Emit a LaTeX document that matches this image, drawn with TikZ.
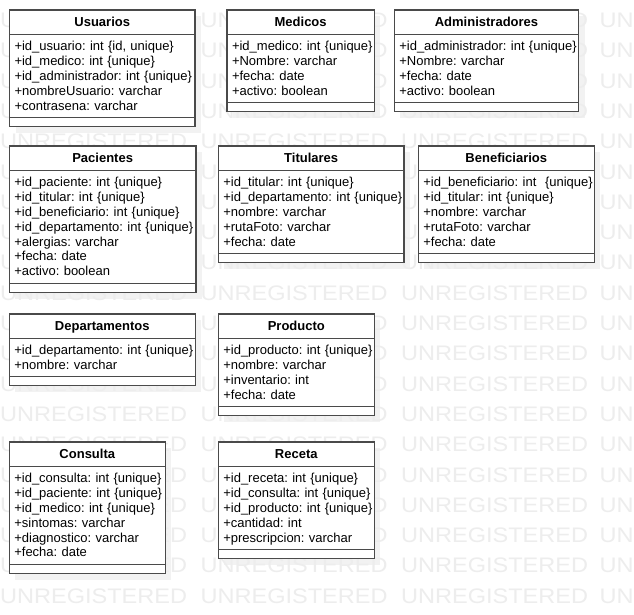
\documentclass[tikz,border=0pt]{standalone}
\usepackage{fontspec}
\setmainfont{Liberation Sans}
\newfontfamily\wmfont[FakeStretch=1.12]{Liberation Sans}
\usepackage{tikz}
\usetikzlibrary{backgrounds}
\definecolor{clsline}{HTML}{4A4A4A}
\definecolor{wmgray}{HTML}{EDEDED}
\definecolor{shgray}{HTML}{F2F2F2}
\frenchspacing

\begin{document}
\begin{tikzpicture}[x=1pt,y=-1pt,
    clshead/.style={draw=clsline,line width=1.1pt,fill=white,anchor=north west,inner sep=0pt,outer sep=0pt,
      minimum height=24.5pt,text height=9.3pt,text depth=0pt,font=\fontsize{13}{14.8}\selectfont\bfseries},
    clsattr/.style={draw=clsline,line width=1.1pt,fill=white,anchor=north west,inner xsep=5pt,inner ysep=0pt,
      outer sep=0pt,text height=16.3pt,font=\fontsize{13}{14.8}\selectfont\frenchspacing},
    clsop/.style={draw=clsline,line width=1.1pt,fill=white,anchor=north west,inner sep=0pt,outer sep=0pt,
      minimum height=9pt},
    wmark/.style={anchor=west,inner sep=0pt,text=wmgray,text height=15pt,text depth=0pt,
      font=\wmfont\fontsize{21}{21}\selectfont}]
    \useasboundingbox (0,0) rectangle (634,614);
    % watermark
    \foreach \k in {0,...,19} {
      \foreach \j in {0,1,2}
        \node[wmark] (wm-\k-\j) at (200.5*\j,20+30.3*\k) {UNREGISTERED};
      \node[wmark] (wm-\k-3) at (599.5,20+30.3*\k) {UN};
    }
    % row 1
    \node[clshead,minimum width=185.5pt] (usuarios) at (9.5,10) {Usuarios};
    \node[clsattr,text width=175.5pt,text depth=66.7pt] (usuarios-at) at (usuarios.south west) {\begin{tabular}[t]{@{}l@{}}
      +id\_usuario: int \{id, unique\}\\ +id\_medico: int \{unique\}\\ +id\_administrador: int \{unique\}\\
      +nombreUsuario: varchar\\ +contrasena: varchar\end{tabular}};
    \node[clsop,minimum width=185.5pt] (usuarios-op) at (usuarios-at.south west) {};
    \node[clshead,minimum width=147.3pt] (medicos) at (227,10) {Medicos};
    \node[clsattr,text width=137.3pt,text depth=51.7pt] (medicos-at) at (medicos.south west) {\begin{tabular}[t]{@{}l@{}}
      +id\_medico: int \{unique\}\\ +Nombre: varchar\\ +fecha: date\\ +activo: boolean\end{tabular}};
    \node[clsop,minimum width=147.3pt] (medicos-op) at (medicos-at.south west) {};
    \node[clshead,minimum width=184.4pt] (admins) at (394.3,10) {Administradores};
    \node[clsattr,text width=174.4pt,text depth=51.7pt] (admins-at) at (admins.south west) {\begin{tabular}[t]{@{}l@{}}
      +id\_administrador: int \{unique\}\\ +Nombre: varchar\\ +fecha: date\\ +activo: boolean\end{tabular}};
    \node[clsop,minimum width=184.4pt] (admins-op) at (admins-at.south west) {};
    % row 2
    \node[clshead,minimum width=186.7pt] (pacientes) at (9.3,146) {Pacientes};
    \node[clsattr,text width=176.7pt,text depth=96.7pt] (pacientes-at) at (pacientes.south west) {\begin{tabular}[t]{@{}l@{}}
      +id\_paciente: int \{unique\}\\ +id\_titular: int \{unique\}\\ +id\_beneficiario: int \{unique\}\\
      +id\_departamento: int \{unique\}\\ +alergias: varchar\\ +fecha: date\\ +activo: boolean\end{tabular}};
    \node[clsop,minimum width=186.7pt] (pacientes-op) at (pacientes-at.south west) {};
    \node[clshead,minimum width=185.7pt] (titulares) at (218.3,146) {Titulares};
    \node[clsattr,text width=175.7pt,text depth=66.7pt] (titulares-at) at (titulares.south west) {\begin{tabular}[t]{@{}l@{}}
      +id\_titular: int \{unique\}\\ +id\_departamento: int \{unique\}\\ +nombre: varchar\\
      +rutaFoto: varchar\\ +fecha: date\end{tabular}};
    \node[clsop,minimum width=185.7pt] (titulares-op) at (titulares-at.south west) {};
    \node[clshead,minimum width=176pt] (benef) at (418.3,146) {Beneficiarios};
    \node[clsattr,text width=166pt,text depth=66.7pt] (benef-at) at (benef.south west) {\begin{tabular}[t]{@{}l@{}}
      +id\_beneficiario: int\ \ \{unique\}\\ +id\_titular: int \{unique\}\\ +nombre: varchar\\
      +rutaFoto: varchar\\ +fecha: date\end{tabular}};
    \node[clsop,minimum width=176pt] (benef-op) at (benef-at.south west) {};
    % row 3
    \node[clshead,minimum width=186pt] (deptos) at (9.3,314) {Departamentos};
    \node[clsattr,text width=176pt,text depth=21.7pt] (deptos-at) at (deptos.south west) {\begin{tabular}[t]{@{}l@{}}
      +id\_departamento: int \{unique\}\\ +nombre: varchar\end{tabular}};
    \node[clsop,minimum width=186pt] (deptos-op) at (deptos-at.south west) {};
    \node[clshead,minimum width=156pt] (producto) at (218.3,314) {Producto};
    \node[clsattr,text width=146pt,text depth=51.7pt] (producto-at) at (producto.south west) {\begin{tabular}[t]{@{}l@{}}
      +id\_producto: int \{unique\}\\ +nombre: varchar\\ +inventario: int\\ +fecha: date\end{tabular}};
    \node[clsop,minimum width=156pt] (producto-op) at (producto-at.south west) {};
    % row 4
    \node[clshead,minimum width=156pt] (consulta) at (9.3,442) {Consulta};
    \node[clsattr,text width=146pt,text depth=81.7pt] (consulta-at) at (consulta.south west) {\begin{tabular}[t]{@{}l@{}}
      +id\_consulta: int \{unique\}\\ +id\_paciente: int \{unique\}\\ +id\_medico: int \{unique\}\\
      +sintomas: varchar\\ +diagnostico: varchar\\ +fecha: date\end{tabular}};
    \node[clsop,minimum width=156pt] (consulta-op) at (consulta-at.south west) {};
    \node[clshead,minimum width=156pt] (receta) at (218.3,442) {Receta};
    \node[clsattr,text width=146pt,text depth=66.7pt] (receta-at) at (receta.south west) {\begin{tabular}[t]{@{}l@{}}
      +id\_receta: int \{unique\}\\ +id\_consulta: int \{unique\}\\ +id\_producto: int \{unique\}\\
      +cantidad: int\\ +prescripcion: varchar\end{tabular}};
    \node[clsop,minimum width=156pt] (receta-op) at (receta-at.south west) {};
    % shadows
    \begin{scope}[on background layer]
      \fill[white] (0,0) rectangle (634,614);
      \foreach \cls in {usuarios,medicos,admins,pacientes,titulares,benef,deptos,producto,consulta,receta}
        \fill[shgray] ([shift={(6,6)}]\cls.north west) rectangle ([shift={(6,6)}]\cls-op.south east);
    \end{scope}
\end{tikzpicture}
\end{document}
